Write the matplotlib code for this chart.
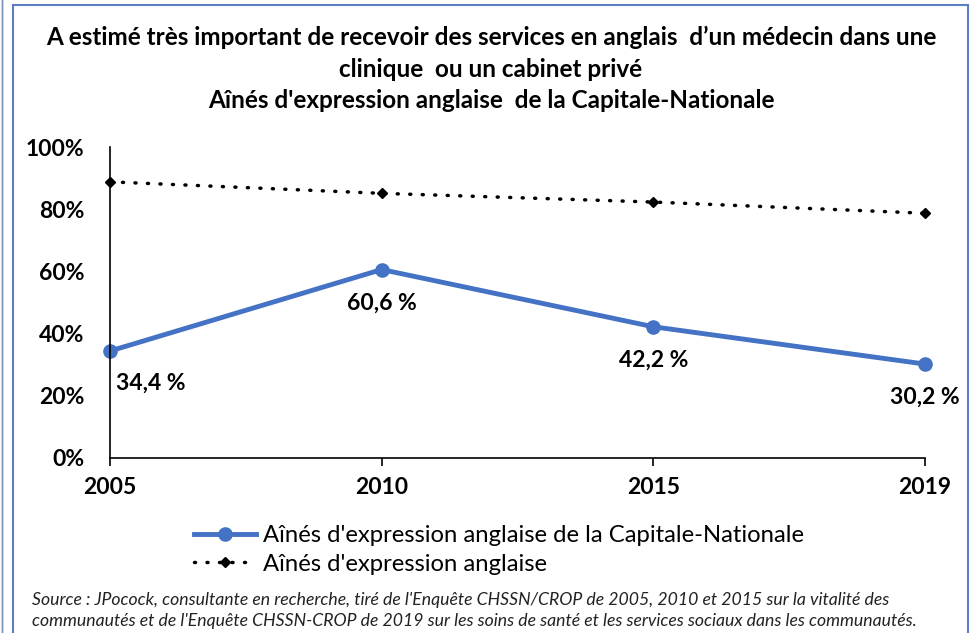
import matplotlib.pyplot as plt
from matplotlib.patches import Rectangle

years = ["2005", "2010", "2015", "2019"]
capitale = [34.4, 60.6, 42.2, 30.2]
anglais = [88.8, 85.1, 82.3, 78.7]
yticks = [0, 20, 40, 60, 80, 100]

title = ("A estimé très important de recevoir des services en anglais  d’un médecin dans une\n"
         "clinique  ou un cabinet privé\n"
         "Aînés d'expression anglaise  de la Capitale-Nationale")
source = ("Source : JPocock, consultante en recherche, tiré de l'Enquête CHSSN/CROP de 2005, 2010 et 2015 sur la vitalité des\n"
          "communautés et de l'Enquête CHSSN-CROP de 2019 sur les soins de santé et les services sociaux dans les communautés.")

blue = "#4472C4"
plt.rcParams['font.family'] = ['Lato', 'DejaVu Sans']

fig = plt.figure(figsize=(9.75, 6.33), dpi=100)
ax = fig.add_axes([110 / 975, 1 - 458 / 633, 815 / 975, 311 / 633])

x = list(range(len(years)))
l1, = ax.plot(x, capitale, color=blue, lw=3.5, marker="o", ms=9.5,
              label="Aînés d'expression anglaise de la Capitale-Nationale")
l2, = ax.plot(x, anglais, color="black", lw=2.5, ls=(0, (0.3, 3.3)), marker="D", ms=5.5,
              label="Aînés d'expression anglaise", dash_capstyle="round")

offsets = [(29, -23.5), (0, -24), (0, -24), (0, -24)]
for xi, v, (dx, dy) in zip(x, capitale, offsets):
    ax.annotate(f"{v:.1f} %".replace(".", ","), (xi, v), xytext=(dx, dy),
                textcoords="offset points", ha="center", va="center",
                fontsize=16.5, fontweight="bold")

ax.set_xlim(0, 3)
ax.set_ylim(0, 100)
ax.set_xticks(x)
ax.set_xticklabels(years, fontsize=16.5, fontweight="bold")
ax.set_yticks(yticks)
ax.set_yticklabels([f"{t}%" for t in yticks], fontsize=16.5, fontweight="bold")
ax.tick_params(axis="y", length=0, pad=18.5)
ax.tick_params(axis="x", length=6, width=1.2, pad=8, direction="out")
for s in ["top", "right"]:
    ax.spines[s].set_visible(False)
for s in ["left", "bottom"]:
    ax.spines[s].set_linewidth(1.2)
for l in (l1, l2):
    l.set_clip_on(False)

fig.legend(handles=[l1, l2], loc="upper left", bbox_to_anchor=(182 / 975, 1 - 513 / 633),
           frameon=False, fontsize=17.2, handlelength=2.6, handletextpad=0.3,
           labelspacing=0.33, borderpad=0)

fig.text(491 / 975, 1 - 26 / 633, title, ha="center", va="top", fontsize=17.5,
         fontweight="bold", linespacing=1.45)
fig.text(32 / 975, 1 - 592 / 633, source, ha="left", va="top", fontsize=12.7,
         style="italic", linespacing=1.35, color="#222222")

fig.patches.append(Rectangle((13 / 975, -0.05), 955 / 975, 1.05 - 5 / 633,
                             transform=fig.transFigure, fill=False,
                             edgecolor="#5B7FC0", lw=1.5))
fig.patches.append(Rectangle((2 / 975, -0.05), 0, 1.1, transform=fig.transFigure,
                             fill=False, edgecolor="#7F95C0", lw=1.0))

fig.savefig("out.png", dpi=100)
